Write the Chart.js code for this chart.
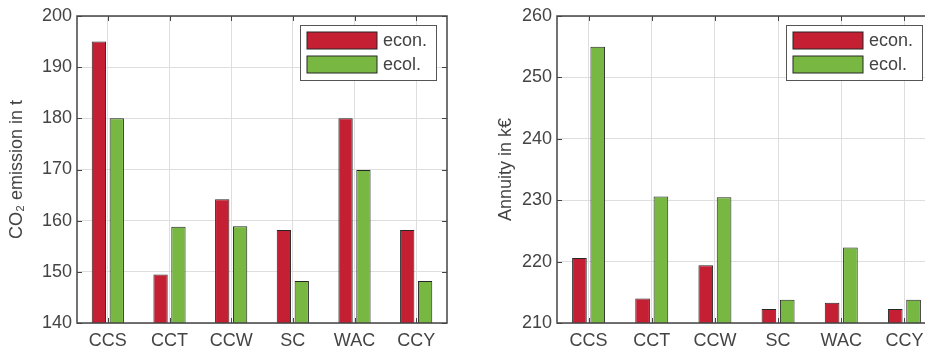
<!DOCTYPE html>
<html>
<head>
<meta charset="utf-8">
<script src="https://cdn.jsdelivr.net/npm/chart.js@4/dist/chart.umd.min.js"></script>
<style>
  html, body { margin: 0; padding: 0; background: #fff; overflow: hidden; }
  body { width: 925px; height: 347px; position: relative; }
  #left { position: absolute; left: 0; top: 0; }
  #right { position: absolute; left: 463px; top: 0; }
</style>
</head>
<body>
<canvas id="left" width="462" height="347"></canvas>
<canvas id="right" width="490" height="347"></canvas>
<script>
const categories = ['CCS', 'CCT', 'CCW', 'SC', 'WAC', 'CCY'];
const seriesLabels = ['econ.', 'ecol.'];
const emissionEcon = [195, 149.5, 164.2, 158.2, 180, 158.2];
const emissionEcol = [180, 158.8, 158.9, 148.2, 169.9, 148.2];
const annuityEcon = [220.6, 214, 219.4, 212.3, 213.3, 212.3];
const annuityEcol = [255, 230.6, 230.5, 213.8, 222.3, 213.8];
const emissionTicks = [140, 150, 160, 170, 180, 190, 200];
const annuityTicks = [210, 220, 230, 240, 250, 260];

const red = '#c41f32';
const green = '#78b842';
const edge = '#262626';
const axisColor = '#444444';
const textColor = '#444444';
const fontFamily = '"Liberation Sans", Arial, Helvetica, sans-serif';

// box around the plot with inward ticks, plus the legend inside the plot
const framePlugin = {
  id: 'frame',
  afterDatasetsDraw(chart) {
    const ctx = chart.ctx;
    const a = chart.chartArea;
    const x = chart.scales.x;
    const y = chart.scales.y;
    const len = 5;
    ctx.save();
    ctx.strokeStyle = axisColor;
    ctx.lineWidth = 1.5;
    ctx.strokeRect(a.left, a.top, a.right - a.left, a.bottom - a.top);
    ctx.lineWidth = 1;
    ctx.beginPath();
    y.ticks.forEach(t => {
      const py = Math.round(y.getPixelForValue(t.value)) + 0.5;
      ctx.moveTo(a.left, py); ctx.lineTo(a.left + len, py);
      ctx.moveTo(a.right, py); ctx.lineTo(a.right - len, py);
    });
    categories.forEach((c, i) => {
      const px = Math.round(x.getPixelForValue(i)) + 0.5;
      ctx.moveTo(px, a.bottom); ctx.lineTo(px, a.bottom - len);
      ctx.moveTo(px, a.top); ctx.lineTo(px, a.top + len);
    });
    ctx.stroke();

    // legend
    const opts = chart.options.plugins.frame;
    const bw = 136, bh = 55;
    const bx = a.right - opts.legendRight - bw;
    const by = a.top + 9;
    ctx.fillStyle = '#fff';
    ctx.fillRect(bx, by, bw, bh);
    ctx.strokeStyle = '#555';
    ctx.lineWidth = 1;
    ctx.strokeRect(bx + 0.5, by + 0.5, bw, bh);
    ctx.font = '18px ' + fontFamily;
    ctx.textBaseline = 'middle';
    chart.data.datasets.forEach((ds, i) => {
      const ry = by + 7 + i * 24;
      ctx.fillStyle = ds.backgroundColor;
      ctx.fillRect(bx + 7, ry, 70, 17);
      ctx.strokeStyle = edge;
      ctx.strokeRect(bx + 7, ry, 70, 17);
      ctx.fillStyle = textColor;
      ctx.fillText(ds.label, bx + 83, ry + 9);
    });
    ctx.restore();
  }
};

const makeChart = (id, econ, ecol, ticks, title, axisWidth, padRight, titlePad, legendRight) => {
  const ctx = document.getElementById(id).getContext('2d');
  return new Chart(ctx, {
    type: 'bar',
    data: {
      labels: categories,
      datasets: [
        { label: seriesLabels[0], data: econ, backgroundColor: red, borderColor: edge, borderWidth: 1, borderSkipped: false },
        { label: seriesLabels[1], data: ecol, backgroundColor: green, borderColor: edge, borderWidth: 1, borderSkipped: false },
      ],
    },
    options: {
      responsive: false,
      animation: false,
      categoryPercentage: 0.58,
      barPercentage: 0.8,
      layout: { padding: { top: 16, right: padRight, left: 0, bottom: 0 } },
      plugins: {
        legend: { display: false },
        tooltip: { enabled: false },
        frame: { legendRight: legendRight },
      },
      scales: {
        x: {
          offset: true,
          grid: { offset: false, color: '#dedede', drawTicks: false },
          border: { display: false },
          ticks: { color: textColor, font: { family: fontFamily, size: 18 }, padding: 7 },
          afterFit(scale) { scale.height = 24; },
        },
        y: {
          min: ticks[0],
          max: ticks[ticks.length - 1],
          afterBuildTicks(scale) { scale.ticks = ticks.map(v => ({ value: v })); },
          grid: { color: '#dedede', drawTicks: false },
          border: { display: false },
          ticks: { color: textColor, font: { family: fontFamily, size: 18 }, padding: 5 },
          title: {
            display: true,
            text: title,
            color: textColor,
            font: { family: fontFamily, size: 18 },
            padding: { top: titlePad, bottom: 0 },
          },
          afterFit(scale) { scale.width = axisWidth; },
        },
      },
    },
    plugins: [framePlugin],
  });
};

makeChart('left', emissionEcon, emissionEcol, emissionTicks, 'CO₂ emission in t', 77, 15, 6, 11);
makeChart('right', annuityEcon, annuityEcol, annuityTicks, 'Annuity in k€', 94, 17, 32, 14);
</script>
</body>
</html>
